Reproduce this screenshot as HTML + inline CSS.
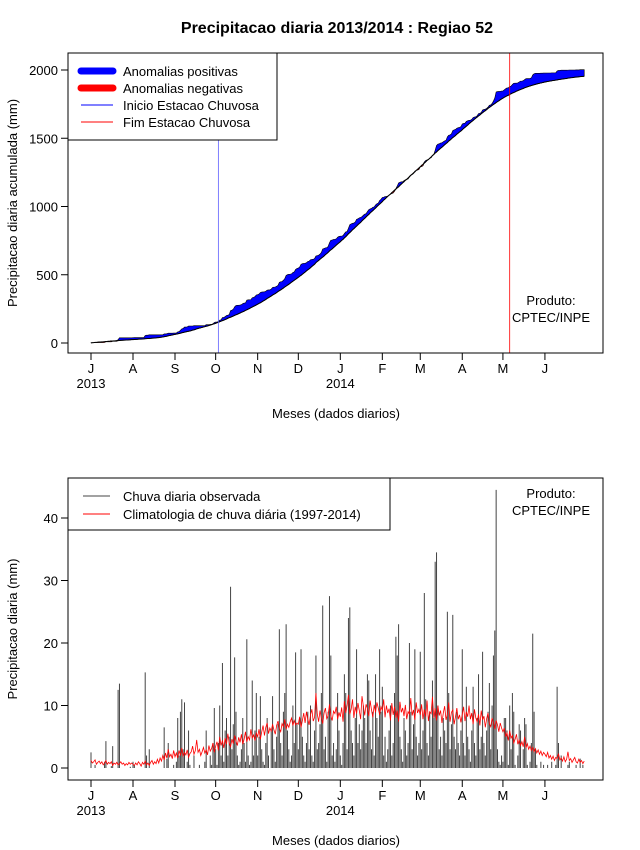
<!DOCTYPE html>
<html><head><meta charset="utf-8"><style>
html,body{margin:0;padding:0;background:#fff}
svg{display:block;font-family:"Liberation Sans",Arial,sans-serif}
</style></head><body>
<svg id="svg" width="640" height="850" viewBox="0 0 640 850" xmlns="http://www.w3.org/2000/svg">
<text x="337" y="33" text-anchor="middle" font-size="16" font-weight="bold">Precipitacao diaria 2013/2014 : Regiao 52</text>
<g id="top"></g>
<g id="bot"></g>
</svg>
<script>
// Daily observed rainfall (mm), 1 Jul 2013 - 30 Jun 2014
const obsJul=[2.5,0,0,0.5,0,0,0,0,0,0,1,4.3,0,0,0,0.3,3.5,0,0,0,12.5,13.5,0,0,0,0,0,0,0,0.2,0];
const obsAug=[1,0.5,0,0,0,0,0,0,0,15.3,2,0,3,0,0,0,0,0,0,0,0,0,0,6.5,0,1.5,4,0,0,0,0.5];
const obsSep=[0,1,8,2,9,11,3,10.5,0,1,6,0.5,0,0,2,0,0,0,0.5,0,0,0,1,6,0,0,2,0.5,4,9.6];
const obsOct=[3,0.5,4,10,2,16.8,1,6,8,2,5,29,3,7,17.7,9,2,0.5,1,3,8,4,1,20.6,2,0.5,1,14,2,6,12];
const obsNov=[2,5,11.5,3,1,0.5,4,8,2,0,6,11.5,3,1,5,7,22.2,4,2,9,12,23,6,3,1,2,10,4,18.5,7];
const obsDec=[3,8,19,5,2,1,4,9,3,10,2,1,6,18,3,4,7,12,26,3,5,1,9,27.5,18,2,4,1,3,12,6];
const obsJan=[2,0.5,4,15,12,3,24,25.7,6,4,2,8,19,4,7,3,6,10,8,4,15,14,6,3,9,2,15,8,5,19,9];
const obsFeb=[13,2,5,1,3,6,10,2,4,12,21,18,23,5,3,1,8,6,2,4,20,9,3,7,19,5,2,4];
const obsMar=[18.6,3,6,28,11,4,2,9,5,14,8,33,34.5,10,3,5,2,8,6,4,25,12,3,7,24.5,5,3,9,4,2,6];
const obsApr=[19,4,2,13,5,3,1,6,13,4,2,8,15,3,5,18.6,4,2,6,9,13.6,3,10,18,22,44.5,3,1,0.5,2];
const obsMay=[1,8,8,6,0.5,10,3,12,9,0.5,0,2,7,6,0,3,8,7,0.5,0,1,4,21.5,9,3,0.5,0,0,1,0,0.5];
const obsJun=[0,0,0.5,0,0,1,0,0,0.5,13,4,0,2,0,0,0,0,0.5,1,0,0,0,0,0.5,0,0,1.5,0,0.5,0];
// Daily climatology (mm)
const climJul=[1.2,0.8,1.0,1.3,0.6,0.9,1.1,0.7,1.0,0.5,0.8,1.2,0.6,0.9,0.7,1.0,0.4,0.8,0.6,0.9,0.5,0.7,1.0,0.6,0.8,0.4,0.7,0.5,0.9,0.6,0.8];
const climAug=[0.6,0.4,0.8,0.5,1.0,0.7,0.3,0.9,0.6,1.1,0.5,0.8,0.4,0.9,1.2,0.6,1.0,0.7,1.4,0.8,1.6,1.1,2.0,1.3,2.4,1.6,3.0,1.8,2.2,1.5,2.8];
const climSep=[1.8,2.4,1.6,2.8,2.0,3.2,1.9,2.5,2.1,2.9,1.7,2.3,2.6,3.5,2.2,2.8,4.5,2.5,3.0,2.0,2.6,3.3,2.4,2.9,2.1,3.6,2.7,3.1,4.0,2.5];
const climOct=[3.5,4.2,2.8,5.0,3.6,4.4,3.2,4.8,3.8,5.5,4.0,3.4,4.6,3.9,5.2,4.3,3.6,4.9,4.1,5.4,3.8,4.6,5.8,4.2,5.0,4.5,6.2,4.8,5.3,4.4,5.6];
const climNov=[5.0,6.2,4.6,5.8,6.8,5.2,6.5,7.2,5.5,6.4,5.9,7.0,6.1,5.4,6.8,7.5,6.3,5.8,7.1,6.6,7.8,6.2,7.0,6.5,7.4,8.0,6.8,7.6,6.9,7.2];
const climDec=[7.0,8.2,6.5,7.6,8.8,7.2,9.0,7.8,6.9,8.5,9.4,7.5,8.1,12.0,8.6,7.4,9.2,8.0,7.1,8.8,9.6,7.9,8.4,10.2,8.3,7.6,9.1,8.7,9.8,7.8,8.9];
const climJan=[8.2,9.7,7.4,10.7,8.8,10.0,11.7,8.6,9.4,11.0,8.0,9.8,8.7,10.4,9.2,7.8,11.5,9.9,8.4,10.2,9.5,8.3,10.8,9.3,8.1,10.1,8.9,10.5,9.6,8.5,9.8];
const climFeb=[9.2,11.0,8.1,10.0,8.8,9.5,7.6,10.4,8.5,9.8,8.0,9.2,7.4,10.6,8.9,9.6,8.3,10.1,7.8,9.0,8.6,11.2,8.4,9.3,7.7,10.5,8.8,9.4];
const climMar=[8.5,10.2,7.8,9.4,8.2,10.8,7.5,9.0,8.7,11.4,8.0,9.6,7.6,10.0,8.4,9.2,7.2,8.8,9.9,7.7,8.6,10.5,7.4,8.9,9.3,7.0,8.2,9.6,7.8,8.5,7.3];
const climApr=[8.6,9.8,7.5,9.0,8.2,10.0,7.8,8.8,7.0,9.4,8.0,7.4,8.6,6.8,9.2,7.7,8.3,6.5,7.9,8.8,7.1,6.6,8.0,7.3,6.2,7.6,6.9,5.8,7.2,6.4];
const climMay=[5.8,6.4,5.0,5.6,4.4,6.0,4.8,5.2,4.0,4.6,5.4,3.8,4.5,3.6,4.2,3.4,5.0,3.2,3.9,3.0,3.5,2.8,3.3,2.6,3.1,2.4,2.9,2.2,2.7,2.0,2.5];
const climJun=[2.2,1.8,2.5,1.6,2.0,1.4,1.9,1.2,1.7,1.5,2.3,1.3,1.6,1.1,1.8,1.0,1.4,2.6,1.2,1.5,0.9,1.3,1.7,1.0,0.8,1.4,0.9,1.2,0.7,1.1];
const monthLabels=["J","A","S","O","N","D","J","F","M","A","M","J"];
const monthStartDays=[0,31,62,92,123,153,184,215,243,274,304,335];
const topTicks=[0,500,1000,1500,2000];
const botTicks=[0,10,20,30,40];
const rainyStartDay=94;
const rainyEndDay=309;

const obs=[].concat(obsJul,obsAug,obsSep,obsOct,obsNov,obsDec,obsJan,obsFeb,obsMar,obsApr,obsMay,obsJun);
const clim=[].concat(climJul,climAug,climSep,climOct,climNov,climDec,climJan,climFeb,climMar,climApr,climMay,climJun);
const NS="http://www.w3.org/2000/svg";
function mk(parent,tag,attrs,text){const e=document.createElementNS(NS,tag);for(const k in attrs)e.setAttribute(k,attrs[k]);if(text!==undefined)e.textContent=text;parent.appendChild(e);return e;}
const X=d=>91+d*1.355;
const L=68,R=603;

function frame(g,top,bot,Y,ticks,ytitle){
  let e=mk(g,'rect',{x:L,y:top,width:R-L,height:bot-top,fill:'none',stroke:'#000','stroke-width':1});
  
  ticks.forEach(t=>{
    let l=mk(g,'line',{x1:L,x2:L-7,y1:Y(t),y2:Y(t),stroke:'#000'});
    
    let tx=mk(g,'text',{x:L-10,y:Y(t)+5,'text-anchor':'end','font-size':13},String(t));
    
  });
  monthStartDays.forEach((d,i)=>{
    let l=mk(g,'line',{x1:X(d),x2:X(d),y1:bot,y2:bot+7,stroke:'#000'});
    
    let tx=mk(g,'text',{x:X(d),y:bot+20,'text-anchor':'middle','font-size':13},monthLabels[i]);
    
  });
  let y1=mk(g,'text',{x:X(0),y:bot+35,'text-anchor':'middle','font-size':13},'2013');
  
  let y2=mk(g,'text',{x:X(184),y:bot+35,'text-anchor':'middle','font-size':13},'2014');
  
  let xt=mk(g,'text',{x:336,y:bot+65,'text-anchor':'middle','font-size':13},'Meses (dados diarios)');
  
  const cy=(top+bot)/2;
  let yt=mk(g,'text',{x:17,y:cy,'text-anchor':'middle','font-size':13,transform:`rotate(-90 17 ${cy})`},ytitle);
  
}
function produto(g,y){
  let a=mk(g,'text',{x:551,y:y,'text-anchor':'middle','font-size':13},'Produto:');
  
  let b=mk(g,'text',{x:551,y:y+17,'text-anchor':'middle','font-size':13},'CPTEC/INPE');
  
}

// ---- Top chart
(function(){
  const g=document.getElementById('top');
  const Y=v=>343-v*(273/2000);
  const co=[],cc=[];let so=0,sc=0;
  for(let i=0;i<obs.length;i++){so+=obs[i];sc+=clim[i];co.push(so);cc.push(sc);}
  let up='',dn='';
  for(let i=0;i<co.length;i++)up+=`${X(i)},${Y(Math.max(co[i],cc[i]))} `;
  for(let i=co.length-1;i>=0;i--)dn+=`${X(i)},${Y(cc[i])} `;
  let p=mk(g,'polygon',{points:up+dn,fill:'#0000ff',stroke:'#000','stroke-width':0.6});
  
  let up2='',dn2='';
  for(let i=0;i<co.length;i++)up2+=`${X(i)},${Y(cc[i])} `;
  for(let i=co.length-1;i>=0;i--)dn2+=`${X(i)},${Y(Math.min(co[i],cc[i]))} `;
  let n=mk(g,'polygon',{points:up2+dn2,fill:'#ff0000',stroke:'#000','stroke-width':0.6});
  
  let cl=mk(g,'polyline',{points:cc.map((v,i)=>`${X(i)},${Y(v)}`).join(' '),fill:'none',stroke:'#000','stroke-width':1});
  
  let vs=mk(g,'line',{x1:X(rainyStartDay),x2:X(rainyStartDay),y1:53,y2:353,stroke:'#6060ff','stroke-width':0.8});
  
  let ve=mk(g,'line',{x1:X(rainyEndDay),x2:X(rainyEndDay),y1:53,y2:353,stroke:'#ff0000','stroke-width':0.8});
  
  frame(g,53,353,Y,topTicks,'Precipitacao diaria acumulada (mm)');
  const lg=mk(g,'g',{});
  
  mk(lg,'rect',{x:68,y:53,width:209,height:87,fill:'#fff',stroke:'#000'});
  const items=[['Anomalias positivas','#0000ff',7],['Anomalias negativas','#ff0000',7],['Inicio Estacao Chuvosa','#0000ff',1],['Fim Estacao Chuvosa','#ff0000',1]];
  items.forEach((it,i)=>{
    const yy=71+i*17;
    const ent=mk(lg,'g',{});
    
    mk(ent,'line',{x1:81,x2:113,y1:yy,y2:yy,stroke:it[1],'stroke-width':it[2],'stroke-linecap':it[2]>1?'round':'butt'});
    mk(ent,'text',{x:123,y:yy+5,'font-size':13},it[0]);
  });
  produto(g,305);
})();

// ---- Bottom chart
(function(){
  const g=document.getElementById('bot');
  const Y=v=>768-v*6.25;
  frame(g,478,780,Y,botTicks,'Precipitacao diaria (mm)');
  obs.forEach((v,i)=>{
    const b=mk(g,'line',{x1:X(i),x2:X(i),y1:Y(0),y2:Y(v),stroke:'#444','stroke-width':1});
    
    
  });
  let cl=mk(g,'polyline',{points:clim.map((v,i)=>`${X(i)},${Y(v)}`).join(' '),fill:'none',stroke:'#ff0000','stroke-width':0.8});
  
  const lg=mk(g,'g',{});
  
  mk(lg,'rect',{x:68,y:478,width:322,height:52,fill:'#fff',stroke:'#000'});
  [['Chuva diaria observada','#444'],['Climatologia de chuva diária (1997-2014)','#ff0000']].forEach((it,i)=>{
    const yy=496+i*18;
    const ent=mk(lg,'g',{});
    
    mk(ent,'line',{x1:83,x2:110,y1:yy,y2:yy,stroke:it[1],'stroke-width':1});
    mk(ent,'text',{x:123,y:yy+5,'font-size':13},it[0]);
  });
  produto(g,498);
})();
</script>
</body></html>
